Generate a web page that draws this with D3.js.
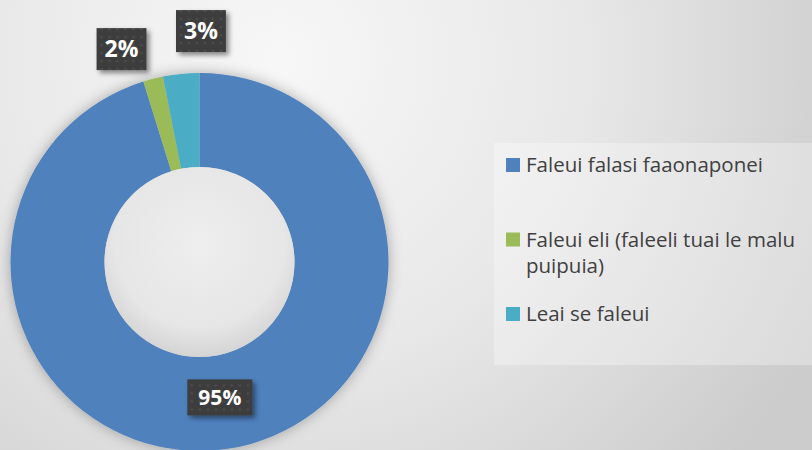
<!DOCTYPE html>
<html>
<head>
<meta charset="utf-8">
<script src="https://cdn.jsdelivr.net/npm/d3@7"></script>
<style>
  html, body { margin: 0; padding: 0; }
  body { width: 812px; height: 450px; overflow: hidden; }
  svg { display: block; font-family: "Open Sans", sans-serif; }
</style>
</head>
<body>
<div id="chart"></div>
<script>
// the data
var categories = ["Faleui falasi faaonaponei", "Faleui eli (faleeli tuai le malu puipuia)", "Leai se faleui"];
var values = [95.2, 1.7, 3.1];
var pctLabels = ["95%", "2%", "3%"];
var colors = ["#4f81bd", "#9bbb59", "#4bacc6"];

var width = 812, height = 450;
var cx = 199.5, cy = 262, outerR = 189, innerR = 95;

var svg = d3.select("#chart").append("svg")
  .attr("width", width)
  .attr("height", height);

var defs = svg.append("defs");

// background gradient
var bg = defs.append("radialGradient")
  .attr("id", "bg")
  .attr("gradientUnits", "userSpaceOnUse")
  .attr("cx", 280).attr("cy", 60).attr("r", 600);
bg.append("stop").attr("offset", "0").attr("stop-color", "#f7f7f7");
bg.append("stop").attr("offset", "0.5").attr("stop-color", "#e8e8e8");
bg.append("stop").attr("offset", "0.72").attr("stop-color", "#dcdcdc");
bg.append("stop").attr("offset", "1").attr("stop-color", "#cccccc");

// hole gradient
var hole = defs.append("radialGradient")
  .attr("id", "hole")
  .attr("cx", "0.5").attr("cy", "0.4").attr("r", "0.6");
hole.append("stop").attr("offset", "0").attr("stop-color", "#eeeeee");
hole.append("stop").attr("offset", "0.75").attr("stop-color", "#e6e6e6");
hole.append("stop").attr("offset", "1").attr("stop-color", "#d4d4d4");

// soft shadow round the ring
var sh = defs.append("filter").attr("id", "ringShadow")
  .attr("x", "-20%").attr("y", "-20%").attr("width", "140%").attr("height", "140%");
sh.append("feDropShadow")
  .attr("dx", 0).attr("dy", 0).attr("stdDeviation", 7)
  .attr("flood-color", "#000").attr("flood-opacity", 0.3);

// shadow for the label boxes
var bs = defs.append("filter").attr("id", "boxShadow")
  .attr("x", "-30%").attr("y", "-30%").attr("width", "160%").attr("height", "160%");
bs.append("feDropShadow")
  .attr("dx", 3).attr("dy", 3).attr("stdDeviation", 2.5)
  .attr("flood-color", "#000").attr("flood-opacity", 0.45);

// dotted pattern for the label boxes
var pat = defs.append("pattern").attr("id", "dots")
  .attr("patternUnits", "userSpaceOnUse")
  .attr("width", 8).attr("height", 8);
pat.append("rect").attr("width", 8).attr("height", 8).attr("fill", "#3c3c3c");
pat.append("circle").attr("cx", 4).attr("cy", 4).attr("r", 1.6).attr("fill", "#4a4a4a");

svg.append("rect")
  .attr("width", width).attr("height", height)
  .attr("fill", "url(#bg)");

// pie
var pie = d3.pie().sort(null).value(function(d) { return d; });
var arcs = pie(values);

var arc = d3.arc().innerRadius(innerR).outerRadius(outerR);

var g = svg.append("g")
  .attr("transform", "translate(" + cx + "," + cy + ")");

g.append("g")
  .attr("filter", "url(#ringShadow)")
  .selectAll("path")
  .data(arcs)
  .enter().append("path")
    .attr("d", arc)
    .attr("fill", function(d, i) { return colors[i]; });

g.append("circle")
  .attr("r", innerR)
  .attr("fill", "url(#hole)");

// data labels: big slice at centroid, small ones pulled outside
var outArc = d3.arc().innerRadius(232).outerRadius(232);
var nudge = [[-1, -5], [-21, 12], [24, 0]];
var fontSizes = [21, 23, 23];

var labels = g.selectAll(".lbl")
  .data(arcs)
  .enter().append("g")
    .attr("class", "lbl")
    .attr("transform", function(d, i) {
      var p = i === 0 ? arc.centroid(d) : outArc.centroid(d);
      return "translate(" + (p[0] + nudge[i][0]) + "," + (p[1] + nudge[i][1]) + ")";
    });

labels.each(function(d, i) {
  var el = d3.select(this);
  var rect = el.append("rect")
    .attr("fill", "url(#dots)")
    .attr("filter", "url(#boxShadow)");
  var t = el.append("text")
    .attr("text-anchor", "middle")
    .attr("dy", "0.36em")
    .attr("fill", "#ffffff")
    .style("font-weight", "bold")
    .style("font-size", fontSizes[i] + "px")
    .text(pctLabels[i]);
  var w = t.node().getComputedTextLength();
  var bw = w + (i === 0 ? 22 : 16);
  var bh = i === 0 ? 36 : 42;
  rect.attr("x", -bw / 2).attr("y", -bh / 2)
    .attr("width", bw).attr("height", bh);
});

// legend
var legend = svg.append("g");
legend.append("rect")
  .attr("x", 494).attr("y", 143)
  .attr("width", width - 494).attr("height", 222)
  .attr("fill", "#ffffff").attr("fill-opacity", 0.3);

var rowY = d3.scalePoint().domain(categories).range([165, 314]);
var maxTextW = 290;

var items = legend.selectAll(".item")
  .data(categories)
  .enter().append("g")
    .attr("class", "item")
    .attr("transform", function(d) { return "translate(506," + rowY(d) + ")"; });

items.append("rect")
  .attr("x", 0).attr("y", -7)
  .attr("width", 14).attr("height", 14)
  .attr("fill", function(d, i) { return colors[i]; });

items.each(function(d) {
  var t = d3.select(this).append("text")
    .attr("x", 20)
    .attr("dy", "0.35em")
    .attr("fill", "#404040")
    .style("font-size", "20.5px");
  var words = d.split(" ");
  var line = [];
  var lineNo = 0;
  var ts = t.append("tspan").attr("x", 20).attr("y", 0);
  words.forEach(function(wd) {
    line.push(wd);
    ts.text(line.join(" "));
    if (ts.node().getComputedTextLength() > maxTextW && line.length > 1) {
      line.pop();
      ts.text(line.join(" "));
      line = [wd];
      lineNo++;
      ts = t.append("tspan").attr("x", 20).attr("y", lineNo * 33).text(wd);
    }
  });
});
</script>
</body>
</html>
